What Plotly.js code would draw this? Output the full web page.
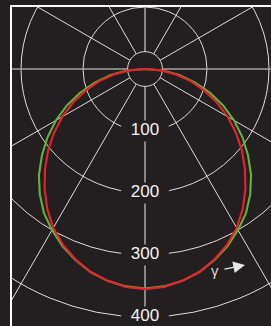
<!DOCTYPE html>
<html>
<head>
<meta charset="utf-8">
<script src="https://cdn.plot.ly/plotly-3.0.1.min.js"></script>
<style>
  html, body { margin:0; padding:0; background:#231f20; overflow:hidden; width:271px; height:326px; }
  #frame { position:absolute; left:10px; top:5px; width:300px; height:340px;
           border-left:2px solid #ffffff; border-top:2px solid #ffffff; overflow:hidden; }
  #plot { position:absolute; left:-177px; top:-248px; width:620px; height:620px; }
</style>
</head>
<body>
<div id="frame"><div id="plot"></div></div>
<script>
// ---- data ----
const gamma   = [0, 5, 10, 15, 20, 25, 30, 35, 40, 45, 50, 55, 60, 65, 70, 75, 80, 85, 90];
const redCd   = [355, 353, 347, 339, 327, 313, 296, 275, 252, 228, 204, 179, 154, 128, 102, 77, 51, 26, 0];
const greenCd = [354, 352, 347, 339, 328, 315, 300, 284, 264, 242, 217, 192, 166, 139, 111, 83, 56, 29, 0];
const radialTicks  = [100, 200, 300, 400];
const radialLabels = ['100', '200', '300', '400'];
const spokeAngles  = [30, 60, 120, 150, 210, 240, 300, 330];
const axisAngles   = [0, 90, 180, 270];
const innerRing = 28;
const rMax = 500;

const BG = '#231f20';

// mirror a C0/C180 half-curve onto both sides
function mirror(g, v) {
  const th = [], r = [];
  for (let i = g.length - 1; i >= 0; i--) { th.push(-g[i]); r.push(v[i]); }
  for (let i = 1; i < g.length; i++) { th.push(g[i]); r.push(v[i]); }
  return {th, r};
}
function spokes(angles) {
  const th = [], r = [];
  angles.forEach(a => { th.push(a, a, null); r.push(innerRing, rMax, null); });
  return {th, r};
}
const ringTh = [], ringR = [];
for (let a = 0; a <= 360; a += 5) { ringTh.push(a); ringR.push(innerRing); }

const sp = spokes(spokeAngles);
const ax = spokes(axisAngles);
const red = mirror(gamma, redCd);
const green = mirror(gamma, greenCd);

const traces = [
  {type:'scatterpolar', mode:'lines', r:sp.r, theta:sp.th, connectgaps:false,
   line:{color:'#dedede', width:1}, hoverinfo:'skip', showlegend:false},
  {type:'scatterpolar', mode:'lines', r:ax.r, theta:ax.th, connectgaps:false,
   line:{color:'#a3a3a3', width:1.6}, hoverinfo:'skip', showlegend:false},
  {type:'scatterpolar', mode:'lines', r:ringR, theta:ringTh,
   line:{color:'#dedede', width:1}, hoverinfo:'skip', showlegend:false},
  {type:'scatterpolar', mode:'markers', r:radialTicks, theta:radialTicks.map(() => 0),
   marker:{symbol:'line-ew', size:34, color:BG, line:{color:BG, width:21}},
   hoverinfo:'skip', showlegend:false},
  {type:'scatterpolar', mode:'lines', r:green.r, theta:green.th,
   line:{color:'#5fb43a', width:2.1}, showlegend:false},
  {type:'scatterpolar', mode:'lines', r:red.r, theta:red.th,
   line:{color:'#e8212b', width:2.1}, showlegend:false},
  {type:'scatterpolar', mode:'text', r:radialTicks, theta:radialTicks.map(() => 0),
   text:radialLabels, textposition:'middle center',
   textfont:{family:'Liberation Sans, Arial, sans-serif', size:17, color:'#f4f4f4'},
   hoverinfo:'skip', showlegend:false}
];

const layout = {
  width:620, height:620,
  margin:{l:0, r:0, t:0, b:0, pad:0},
  paper_bgcolor:BG, plot_bgcolor:BG,
  showlegend:false,
  polar:{
    domain:{x:[0,1], y:[0,1]},
    bgcolor:BG,
    radialaxis:{range:[0, rMax], tickvals:radialTicks, showticklabels:false, ticks:'',
                showline:false, showgrid:true, gridcolor:'#dedede', gridwidth:1},
    angularaxis:{rotation:-90, direction:'counterclockwise', showgrid:false,
                 showticklabels:false, ticks:'', showline:false}
  },
  annotations:[{
    xref:'paper', yref:'paper', x:0.6613, y:0.1839, ax:-30, ay:6,
    text:'γ', showarrow:true, arrowhead:2, arrowsize:1.8, arrowwidth:1.3,
    arrowcolor:'#e6e6e6', startstandoff:4,
    font:{family:'Liberation Sans, Arial, sans-serif', size:15, color:'#d8d8d8'}
  }]
};

Plotly.newPlot('plot', traces, layout, {staticPlot:true, displayModeBar:false});
</script>
</body>
</html>
